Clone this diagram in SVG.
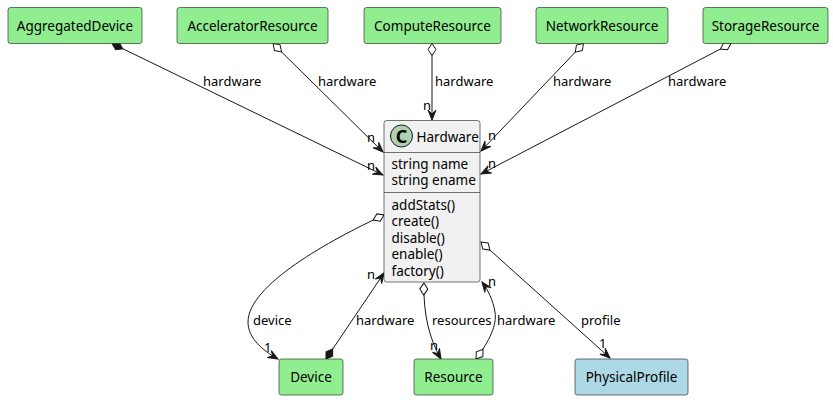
<svg xmlns="http://www.w3.org/2000/svg" width="833" height="400" viewBox="0 0 833 400">
<style>
.node{stroke:#181818;stroke-width:0.6}
.g{fill:#90EE90}
.b{fill:#ADD8E6}
.t{font-family:"Noto Sans","DejaVu Sans",sans-serif;font-size:13.5px;fill:#000}
.c{text-anchor:middle}
.lbl{font-family:"Noto Sans","DejaVu Sans",sans-serif;font-size:13px;fill:#000}
.e{fill:none;stroke:#181818;stroke-width:1}
</style>
<defs>
<marker id="arr" markerUnits="userSpaceOnUse" viewBox="-12 -6 14 12" markerWidth="14" markerHeight="12" refX="0" refY="0" orient="auto" overflow="visible">
<path d="M0,0 L-10,-4 L-6,0 L-10,4 Z" fill="#181818" stroke="#181818" stroke-width="1"/>
</marker>
<marker id="odia" markerUnits="userSpaceOnUse" viewBox="-1 -6 15 12" markerWidth="15" markerHeight="12" refX="0" refY="0" orient="auto" overflow="visible">
<path d="M0,0 L6,-4 L12,0 L6,4 Z" fill="#FFFFFF" stroke="#181818" stroke-width="1"/>
</marker>
<marker id="fdia" markerUnits="userSpaceOnUse" viewBox="-1 -6 15 12" markerWidth="15" markerHeight="12" refX="0" refY="0" orient="auto" overflow="visible">
<path d="M0,0 L6,-4 L12,0 L6,4 Z" fill="#181818" stroke="#181818" stroke-width="1"/>
</marker>
</defs>

<g id="connectors">
<path class="e" d="M112,43.5 L383,175" marker-start="url(#fdia)" marker-end="url(#arr)"/>
<path class="e" d="M273,43.5 L383,152" marker-start="url(#odia)" marker-end="url(#arr)"/>
<path class="e" d="M432,43.5 L432,120" marker-start="url(#odia)" marker-end="url(#arr)"/>
<path class="e" d="M583.5,43.5 L481,151" marker-start="url(#odia)" marker-end="url(#arr)"/>
<path class="e" d="M731,43.5 L481,174" marker-start="url(#odia)" marker-end="url(#arr)"/>
<path class="e" d="M384,215 C330,240 248,285 248,322 C248,338 262,350 278,359" marker-start="url(#odia)" marker-end="url(#arr)"/>
<path class="e" d="M326,359 L384,273" marker-start="url(#fdia)" marker-end="url(#arr)"/>
<path class="e" d="M424,283 C423,315 430,340 441,359" marker-start="url(#odia)" marker-end="url(#arr)"/>
<path class="e" d="M476,359 C490,340 497,325 495,312 C493,300 488,290 482,282" marker-start="url(#odia)" marker-end="url(#arr)"/>
<path class="e" d="M481,242 L610,358" marker-start="url(#odia)" marker-end="url(#arr)"/>
<text class="lbl" x="203" y="86">hardware</text>
<text class="lbl" x="318" y="86">hardware</text>
<text class="lbl" x="435" y="86">hardware</text>
<text class="lbl" x="553" y="86">hardware</text>
<text class="lbl" x="668" y="86">hardware</text>
<text class="lbl" x="367" y="142">n</text>
<text class="lbl" x="367" y="170">n</text>
<text class="lbl" x="423" y="110">n</text>
<text class="lbl" x="488" y="140">n</text>
<text class="lbl" x="488" y="168">n</text>
<text class="lbl" x="253" y="325">device</text>
<text class="lbl" x="264" y="352">1</text>
<text class="lbl" x="356" y="325">hardware</text>
<text class="lbl" x="367" y="279">n</text>
<text class="lbl" x="432" y="325">resources</text>
<text class="lbl" x="430" y="350">n</text>
<text class="lbl" x="497" y="325">hardware</text>
<text class="lbl" x="488" y="286">n</text>
<text class="lbl" x="581" y="325">profile</text>
<text class="lbl" x="599" y="348">1</text>
</g>

<g id="AggregatedDevice"><rect class="node g" x="8" y="7.5" width="134" height="36" rx="2.5"/><text class="t c" x="75" y="30.5">AggregatedDevice</text></g>
<g id="AcceleratorResource"><rect class="node g" x="177" y="7.5" width="151" height="36" rx="2.5"/><text class="t c" x="252.5" y="30.5">AcceleratorResource</text></g>
<g id="ComputeResource"><rect class="node g" x="364" y="7.5" width="137" height="36" rx="2.5"/><text class="t c" x="432.5" y="30.5">ComputeResource</text></g>
<g id="NetworkResource"><rect class="node g" x="536" y="7.5" width="132" height="36" rx="2.5"/><text class="t c" x="602" y="30.5">NetworkResource</text></g>
<g id="StorageResource"><rect class="node g" x="703" y="7.5" width="125" height="36" rx="2.5"/><text class="t c" x="765.5" y="30.5">StorageResource</text></g>

<g id="Hardware">
<rect x="384" y="120.5" width="96" height="161.5" rx="2.5" fill="#F1F1F1" stroke="#181818" stroke-width="0.6"/>
<circle cx="401.5" cy="136" r="11" fill="#ADD1B2" stroke="#181818" stroke-width="1"/>
<text x="401.5" y="142.5" text-anchor="middle" font-family="'Noto Sans','DejaVu Sans',sans-serif" font-size="18" font-weight="bold" fill="#000">C</text>
<text class="t" x="416.5" y="141.5">Hardware</text>
<line x1="384" y1="152.5" x2="480" y2="152.5" stroke="#181818" stroke-width="0.6"/>
<text class="t" x="391.5" y="168.5">string name</text>
<text class="t" x="391.5" y="185">string ename</text>
<line x1="384" y1="192.5" x2="480" y2="192.5" stroke="#181818" stroke-width="0.6"/>
<text class="t" x="391.5" y="209.5">addStats()</text>
<text class="t" x="391.5" y="226">create()</text>
<text class="t" x="391.5" y="242.5">disable()</text>
<text class="t" x="391.5" y="259">enable()</text>
<text class="t" x="391.5" y="275.5">factory()</text>
</g>

<g id="Device"><rect class="node g" x="279" y="359" width="64" height="36" rx="2.5"/><text class="t c" x="311" y="382">Device</text></g>
<g id="Resource"><rect class="node g" x="414" y="359" width="79" height="36" rx="2.5"/><text class="t c" x="453.5" y="382">Resource</text></g>
<g id="PhysicalProfile"><rect class="node b" x="575" y="359" width="113" height="36" rx="2.5"/><text class="t c" x="631.5" y="382">PhysicalProfile</text></g>
</svg>
